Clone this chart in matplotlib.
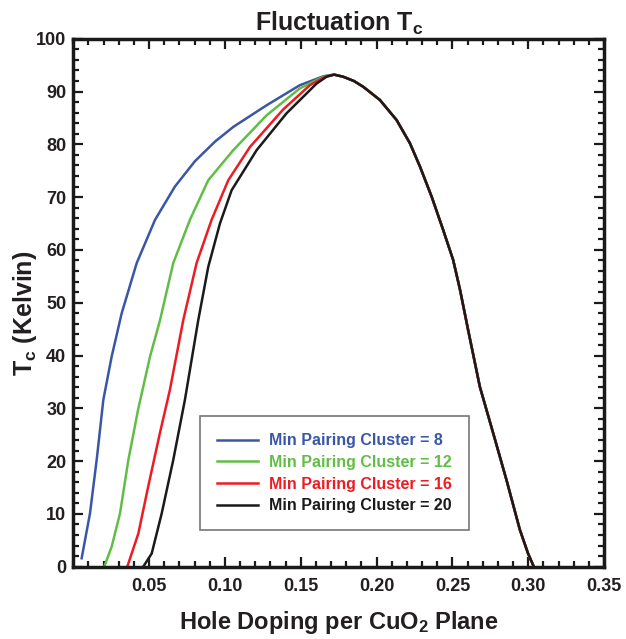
import numpy as np
import matplotlib
matplotlib.use("Agg")
import matplotlib.pyplot as plt
from matplotlib.ticker import MultipleLocator

plt.rcParams['font.family'] = ['Liberation Sans', 'DejaVu Sans']
plt.rcParams['font.weight'] = 'bold'
plt.rcParams['mathtext.fontset'] = 'custom'
plt.rcParams['mathtext.rm'] = 'Liberation Sans:bold'
plt.rcParams['mathtext.it'] = 'Liberation Sans:bold'
plt.rcParams['mathtext.bf'] = 'Liberation Sans:bold'

# rising branches
x8 = [0.0055, 0.011, 0.0154, 0.0198, 0.0253, 0.0319, 0.0418, 0.0539, 0.067, 0.0802,
      0.0934, 0.1055, 0.1275, 0.1494, 0.1650]
t8 = [1.6, 10.1, 20.2, 31.6, 39.8, 48.0, 57.5, 65.7, 72.0, 76.8,
      80.5, 83.3, 87.4, 91.2, 92.9]

x12 = [0.0204, 0.0253, 0.0308, 0.0363, 0.0429, 0.0506, 0.0572, 0.0659, 0.0769, 0.089,
       0.1055, 0.1275, 0.1494, 0.1650]
t12 = [0.0, 3.8, 10.1, 20.2, 30.0, 39.8, 46.7, 57.5, 65.7, 73.2,
       78.9, 85.5, 90.6, 92.8]

x16 = [0.0356, 0.0429, 0.0494, 0.0571, 0.0637, 0.0725, 0.0813, 0.0912, 0.1022, 0.1165,
       0.1384, 0.1560, 0.1660]
t16 = [0.0, 6.3, 15.2, 25.3, 33.5, 46.7, 57.5, 65.7, 73.2, 79.5,
       86.6, 91.2, 92.8]

x20 = [0.0461, 0.0517, 0.0583, 0.0659, 0.0736, 0.0824, 0.089, 0.0967, 0.1044, 0.1209,
       0.1407, 0.1604, 0.1670]
t20 = [0.0, 2.5, 10.1, 20.2, 31.6, 46.7, 56.8, 65.0, 71.3, 78.9,
       85.9, 91.5, 92.8]

# top and falling branch, common to all four
x_fall = [0.1720, 0.1780, 0.1850, 0.1912, 0.2022, 0.2132, 0.2220, 0.2286, 0.2363, 0.2439,
          0.2505, 0.2550, 0.2604, 0.2681, 0.2769, 0.2857, 0.2945, 0.2999, 0.3037]
t_fall = [93.2, 92.8, 92.0, 90.9, 88.4, 84.6, 80.2, 75.8, 70.1, 63.8,
          58.1, 52.5, 44.8, 34.1, 25.3, 16.4, 7.0, 2.5, 0.0]

labels = ["Min Pairing Cluster = 8", "Min Pairing Cluster = 12",
          "Min Pairing Cluster = 16", "Min Pairing Cluster = 20"]
colors = ["#3a56a6", "#62bd47", "#ed1c24", "#1a1a1a"]
series = [(x8, t8), (x12, t12), (x16, t16), (x20, t20)]

fig = plt.figure(figsize=(6.26, 6.39), dpi=100)
ax = fig.add_axes([0.1171, 0.1131, 0.8478, 0.8263])

for (xs, ts), lab, c in zip(series, labels, colors):
    ax.plot(xs + x_fall, ts + t_fall, color=c, lw=1.8, label=lab,
            solid_joinstyle='round')

ax.set_xlim(0, 0.35)
ax.set_ylim(0, 100)
ax.set_xticks([0.05, 0.10, 0.15, 0.20, 0.25, 0.30, 0.35])
ax.set_xticklabels(["0.05", "0.10", "0.15", "0.20", "0.25", "0.30", "0.35"])
ax.set_yticks(range(0, 101, 10))
ax.xaxis.set_minor_locator(MultipleLocator(0.01))
ax.yaxis.set_minor_locator(MultipleLocator(2))
ax.tick_params(which='both', direction='in', top=True, right=True, width=1.6, color='#1a1a1a')
ax.tick_params(which='major', length=7, labelsize=13, labelcolor='#231f20')
ax.tick_params(axis='x', which='major', pad=8)
ax.tick_params(axis='y', which='major', pad=5)
ax.tick_params(which='minor', length=4)
for s in ax.spines.values():
    s.set_linewidth(2.5)
    s.set_color('#1a1a1a')

ax.set_title(r"Fluctuation T$_{\mathrm{c}}$", fontsize=18, fontweight='bold', color='#231f20', pad=6)
ax.set_xlabel(r"Hole Doping per CuO$_2$ Plane", fontsize=17, fontweight='bold', color='#231f20', labelpad=10)
ax.set_ylabel(r"T$_{\mathrm{c}}$ (Kelvin)", fontsize=18, fontweight='bold', color='#231f20')
ax.yaxis.set_label_coords(-0.064, 0.48)

leg = ax.legend(loc='lower left', bbox_to_anchor=(0.2387, 0.0695), fontsize=11.5, frameon=True,
                fancybox=False, handlelength=2.6, handletextpad=0.7, borderpad=1.05,
                labelspacing=0.42, borderaxespad=0)
leg.get_frame().set_edgecolor('#555555')
leg.get_frame().set_linewidth(1.2)
for txt, c in zip(leg.get_texts(), colors):
    txt.set_color(c)
    txt.set_fontweight('bold')

fig.savefig("out.png", dpi=100)
